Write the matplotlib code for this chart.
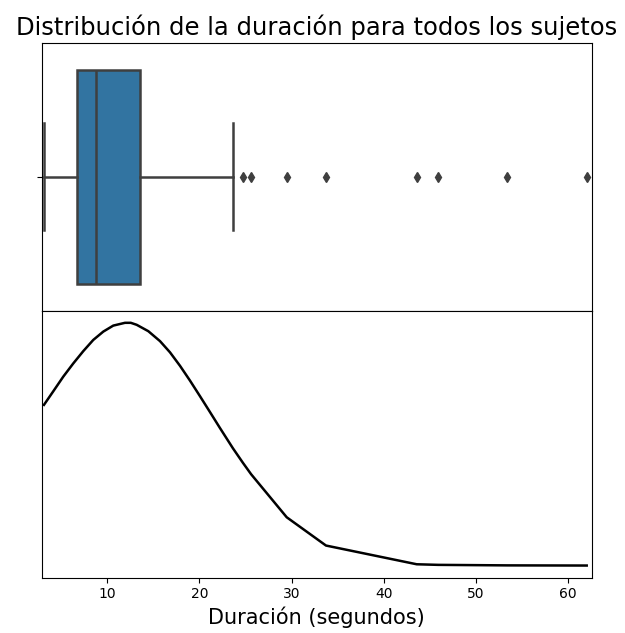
import matplotlib
matplotlib.use("Agg")
import matplotlib.pyplot as plt

# Box plot statistics (seconds)
q1 = 6.71
median = 8.77
q3 = 13.55
whisker_low = 3.13
whisker_high = 23.63
outliers = [24.7, 25.6, 29.46, 33.72, 43.56, 45.9, 53.4, 62.0]

# Density curve evaluated at sorted durations
kde_x = [3.13, 4.14, 5.23, 6.31, 7.40, 8.48, 9.57, 10.65, 11.92, 12.55, 13.19,
         14.45, 15.72, 16.80, 17.89, 18.97, 20.05, 21.14, 22.22, 23.63,
         24.7, 25.6, 29.46, 33.72, 43.56, 45.9, 53.4, 62.0]
kde_y = [0.0404, 0.0438, 0.0475, 0.0508, 0.0539, 0.0567, 0.0588, 0.0603, 0.0610, 0.0610, 0.0605,
         0.0589, 0.0564, 0.0536, 0.0502, 0.0465, 0.0426, 0.0386, 0.0346, 0.0295,
         0.0259, 0.0230, 0.0122, 0.0051, 0.0004, 0.00025, 0.00012, 0.00008]

title = "Distribución de la duración para todos los sujetos"
xlabel = "Duración (segundos)"

box_color = "#3274a1"
gray = "#3f3f3f"
lw = 1.8

fig = plt.figure(figsize=(6.25, 6.33), dpi=100)
ax_box = fig.add_axes([0.0672, 0.5092, 0.8795, 0.4229])
ax_kde = fig.add_axes([0.0672, 0.0874, 0.8795, 0.4218], sharex=ax_box)

stats = [dict(med=median, q1=q1, q3=q3, whislo=whisker_low, whishi=whisker_high,
              fliers=outliers)]
ax_box.bxp(stats, positions=[0], widths=0.8, orientation="horizontal",
           patch_artist=True,
           boxprops=dict(facecolor=box_color, edgecolor=gray, linewidth=lw),
           medianprops=dict(color=gray, linewidth=lw),
           whiskerprops=dict(color=gray, linewidth=lw),
           capprops=dict(color=gray, linewidth=lw),
           flierprops=dict(marker="d", markersize=5.5, markerfacecolor=gray,
                           markeredgecolor=gray, linestyle="none"))
ax_box.set_ylim(0.5, -0.5)
ax_box.set_yticks([0])
ax_box.set_yticklabels([""])
ax_box.tick_params(axis="x", which="both", bottom=False, labelbottom=False)
ax_box.set_title(title, fontsize=17.5)

ax_kde.plot(kde_x, kde_y, color="black", linewidth=1.8)
ax_kde.set_yticks([])
ax_kde.set_xlim(2.92, 62.54)
ax_kde.set_xticks([10, 20, 30, 40, 50, 60])
ax_kde.tick_params(axis="x", labelsize=10)
ax_kde.set_xlabel(xlabel, fontsize=15)

fig.savefig("out.png", dpi=100)
